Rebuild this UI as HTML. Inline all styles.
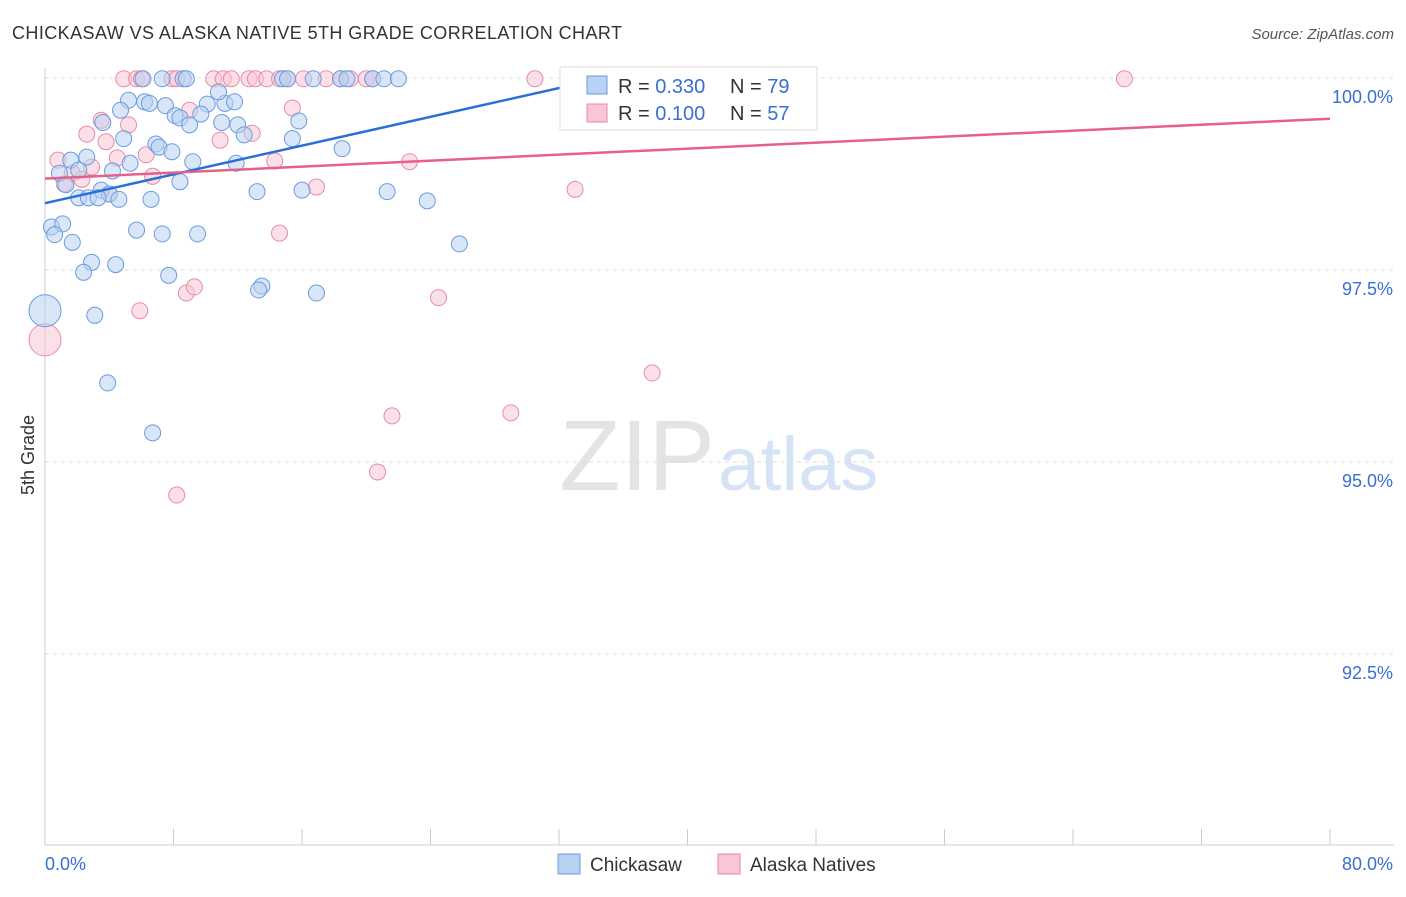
<!DOCTYPE html>
<html><head><meta charset="utf-8">
<style>
body{margin:0;background:#fff;font-family:"Liberation Sans",sans-serif;}
svg text{font-family:"Liberation Sans",sans-serif;}
</style></head>
<body>
<svg id="chart" width="1406" height="892">
<text x="12" y="39" font-size="18" fill="#333" textLength="610">CHICKASAW VS ALASKA NATIVE 5TH GRADE CORRELATION CHART</text>
<text x="1394" y="39" font-size="15" fill="#555" font-style="italic" text-anchor="end">Source: ZipAtlas.com</text>
<text x="715" y="490" font-size="100" fill="#e4e4e4" text-anchor="end" font-family="Liberation Serif">ZIP</text>
<text x="718" y="490" font-size="76" fill="#d6e3f5">atlas</text>
<g id="grid"></g>
<g id="axes"></g>
<g id="pts"></g>
<g id="trend"></g>
<text x="34" y="455" font-size="18" fill="#333" transform="rotate(-90 34 455)" text-anchor="middle">5th Grade</text>
<g>
<rect x="560" y="67" width="257" height="63" fill="#fff" stroke="#ddd"/>
<rect x="587" y="76" width="20" height="18" fill="#b8d2f3" stroke="#6c9be0"/>
<text x="618" y="93" font-size="20" fill="#333">R = <tspan fill="#3a6fd0">0.330</tspan></text>
<text x="730" y="93" font-size="20" fill="#333">N = <tspan fill="#3a6fd0">79</tspan></text>
<rect x="587" y="104" width="20" height="18" fill="#f9c6d6" stroke="#e98aa8"/>
<text x="618" y="120" font-size="20" fill="#333">R = <tspan fill="#3a6fd0">0.100</tspan></text>
<text x="730" y="120" font-size="20" fill="#333">N = <tspan fill="#3a6fd0">57</tspan></text>
</g>
<g>
<rect x="558" y="854" width="22" height="20" fill="#b8d2f3" stroke="#6c9be0"/>
<text x="590" y="871" font-size="19" fill="#333">Chickasaw</text>
<rect x="718" y="854" width="22" height="20" fill="#f9c6d6" stroke="#e98aa8"/>
<text x="750" y="871" font-size="19" fill="#333">Alaska Natives</text>
</g>
</svg>
<script>
const yTicks=[100,97.5,95,92.5];
const yTickLabels=["100.0%","97.5%","95.0%","92.5%"];
const xTickLabels=["0.0%","80.0%"];
const blueX=[0,6.1,7.3,8.6,8.8,14.8,15.1,16.7,18.4,18.8,20.4,21.1,22.0,5.2,6.2,6.5,7.5,10.1,11.2,11.8,10.8,4.7,8.1,8.4,9.7,9.0,11.0,12.0,12.4,15.8,15.4,3.6,4.9,6.9,7.1,7.9,18.5,1.6,2.6,5.3,9.2,11.9,0.9,2.1,4.2,8.4,1.3,3.5,4.0,2.1,2.7,3.3,4.6,6.6,13.2,16.0,21.3,23.8,0.4,1.1,0.6,1.7,5.7,7.3,9.5,25.8,2.9,4.4,2.4,7.7,13.5,13.3,16.9,3.1,3.9,6.7];
const blueY=[96.97,99.99,99.99,99.99,99.99,99.99,99.99,99.99,99.99,99.99,99.99,99.99,99.99,99.71,99.69,99.67,99.64,99.66,99.67,99.69,99.82,99.58,99.51,99.48,99.53,99.39,99.42,99.39,99.26,99.44,99.21,99.42,99.21,99.14,99.1,99.04,99.08,98.93,98.97,98.89,98.91,98.89,98.76,98.8,98.79,98.65,98.61,98.54,98.49,98.44,98.44,98.44,98.42,98.42,98.52,98.54,98.52,98.4,98.06,98.1,97.96,97.86,98.02,97.97,97.97,97.84,97.6,97.57,97.47,97.43,97.29,97.24,97.2,96.91,96.03,95.38];
const pinkX=[0,4.9,5.7,6.0,7.9,8.2,10.5,11.1,11.6,12.7,13.1,13.8,14.6,15.1,16.1,17.5,18.4,19.0,20.0,20.4,30.5,41.5,44.6,45.6,67.2,15.4,9.0,3.5,5.2,12.9,2.6,3.8,10.9,0.8,6.3,4.5,2.9,14.3,22.7,1.7,2.3,6.7,1.2,16.9,33.0,4.0,14.6,8.8,9.3,24.5,5.9,37.8,29.0,21.6,20.7,8.2];
const pinkY=[96.59,99.99,99.99,99.99,99.99,99.99,99.99,99.99,99.99,99.99,99.99,99.99,99.99,99.99,99.99,99.99,99.99,99.99,99.99,99.99,99.99,99.99,99.99,99.99,99.99,99.61,99.58,99.45,99.39,99.28,99.27,99.17,99.19,98.93,99.0,98.96,98.84,98.92,98.91,98.76,98.68,98.72,98.62,98.58,98.55,98.49,97.98,97.2,97.28,97.14,96.97,96.16,95.64,95.6,94.87,94.57];
const trendBlue=[98.37,0,100,34.8];
const trendPink=[98.69,0,99.47,80];
const NS="http://www.w3.org/2000/svg";
const X=v=>45+v/80*1285, Y=v=>78+(100-v)*76.8;
function mk(t,a,p){const e=document.createElementNS(NS,t);for(const k in a)e.setAttribute(k,a[k]);p.appendChild(e);return e;}
const grid=document.getElementById('grid'),axes=document.getElementById('axes'),pts=document.getElementById('pts'),tr=document.getElementById('trend');
yTicks.forEach((t,i)=>{
 const l=mk('line',{x1:45,x2:1394,y1:Y(t),y2:Y(t),stroke:'#ddd','stroke-dasharray':'4,4'},grid);
 
 
 const tx=mk('text',{x:1393,y:Y(t)+25,'font-size':18,fill:'#3a6fd0','text-anchor':'end'},grid);
 tx.textContent=yTickLabels[i];
 
 
});
const xa=mk('line',{x1:45,x2:1394,y1:845,y2:845,stroke:'#ccc'},axes);


const ya=mk('line',{x1:45,x2:45,y1:68,y2:845,stroke:'#ccc'},axes);


for(let i=0;i<=10;i++){const t=mk('line',{x1:X(i*8),x2:X(i*8),y1:829,y2:845,stroke:'#ccc'},axes);
 
 }
[[0,'start',0],[80,'end',1]].forEach(([v,a,i])=>{const t=mk('text',{x:X(v)+(i?63:0),y:870,'font-size':18,fill:'#3a6fd0','text-anchor':a},axes);t.textContent=xTickLabels[i];
 
 });
function dots(xs,ys,fill,stroke,name){xs.forEach((x,i)=>{const c=mk('circle',{cx:X(x),cy:Y(ys[i]),r:i==0?16:8,fill:fill,'fill-opacity':0.55,stroke:stroke,'stroke-width':1},pts);
 
 });}
dots(pinkX,pinkY,'#f9c6d6','#e98aa8','alaska-point');
dots(blueX,blueY,'#b8d2f3','#6c9be0','chickasaw-point');
const tb=mk('line',{x1:X(trendBlue[1]),y1:Y(trendBlue[0]),x2:X(trendBlue[3]),y2:Y(trendBlue[2]),stroke:'#2a6fd6','stroke-width':2.5},tr);


const tp=mk('line',{x1:X(trendPink[1]),y1:Y(trendPink[0]),x2:X(trendPink[3]),y2:Y(trendPink[2]),stroke:'#e5608a','stroke-width':2.5},tr);


</script>
</body></html>
